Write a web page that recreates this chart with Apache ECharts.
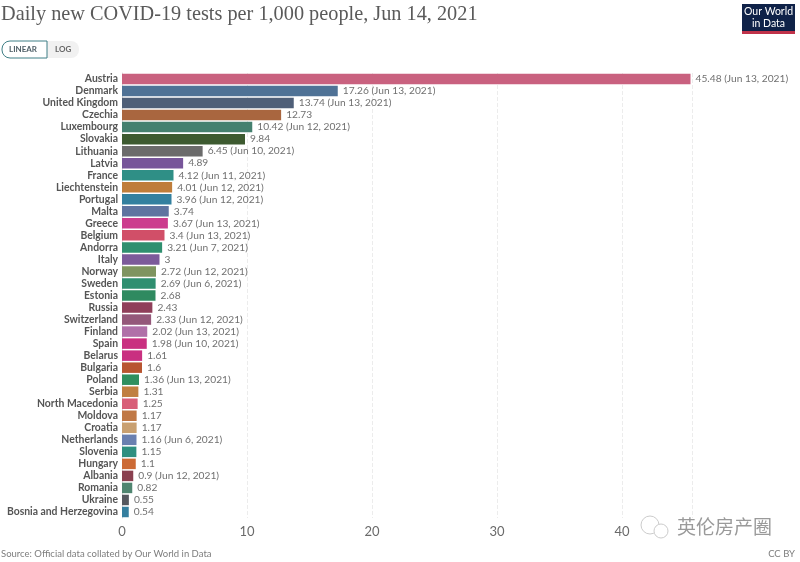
<!DOCTYPE html>
<html><head><meta charset="utf-8">
<style>html,body{margin:0;padding:0;background:#fff}#c{width:800px;height:562px}</style>
<script src="https://cdn.jsdelivr.net/npm/echarts@6/dist/echarts.min.js"></script>
</head><body><div id="c"></div>
<script>
const countries=["Austria","Denmark","United Kingdom","Czechia","Luxembourg","Slovakia","Lithuania","Latvia","France","Liechtenstein","Portugal","Malta","Greece","Belgium","Andorra","Italy","Norway","Sweden","Estonia","Russia","Switzerland","Finland","Spain","Belarus","Bulgaria","Poland","Serbia","North Macedonia","Moldova","Croatia","Netherlands","Slovenia","Hungary","Albania","Romania","Ukraine","Bosnia and Herzegovina"];
const values=[45.48,17.26,13.74,12.73,10.42,9.84,6.45,4.89,4.12,4.01,3.96,3.74,3.67,3.4,3.21,3,2.72,2.69,2.68,2.43,2.33,2.02,1.98,1.61,1.6,1.36,1.31,1.25,1.17,1.17,1.16,1.15,1.1,0.9,0.82,0.55,0.54];
const dates=["Jun 13, 2021","Jun 13, 2021","Jun 13, 2021","","Jun 12, 2021","","Jun 10, 2021","","Jun 11, 2021","Jun 12, 2021","Jun 12, 2021","","Jun 13, 2021","Jun 13, 2021","Jun 7, 2021","","Jun 12, 2021","Jun 6, 2021","","","Jun 12, 2021","Jun 13, 2021","Jun 10, 2021","","","Jun 13, 2021","","","","","Jun 6, 2021","","","Jun 12, 2021","","",""];
const colors=["#c9617f","#4f7296","#4f5f78","#a9663f","#45806f","#3d5a30","#6b6b6b","#77559a","#2f8f86","#bf7d3a","#33809f","#5f74a0","#cc3c8e","#d14f68","#2f8f6f","#7c5a9a","#7f9460","#2f8f70","#2f8a60","#8f3f5a","#94587a","#b070a8","#c93080","#c93080","#b85530","#2f8f5f","#c07f40","#d85f78","#c07845","#c9a070","#6a80b0","#2f8f80","#cc6a35","#8a4050","#4f8570","#55585f","#357f9f"];
const xTicks=[0,10,20,30,40];
const titleText="Daily new COVID-19 tests per 1,000 people, Jun 14, 2021";
const sourceText="Source: Official data collated by Our World in Data";
const sans="Lato, 'Noto Sans', sans-serif";
const chart=echarts.init(document.getElementById('c'),null,{renderer:'canvas'});
chart.setOption({
 animation:false,
 backgroundColor:'#fff',
 grid:{left:122,top:73,width:570,height:445,containLabel:false},
 xAxis:{type:'value',min:0,max:45.6,interval:10,
  axisLine:{show:false},axisTick:{show:false},
  axisLabel:{color:'#6a6a6a',fontSize:13,fontFamily:sans,margin:7,
    formatter:v=>xTicks.includes(v)?String(v):''},
  splitLine:{show:true,lineStyle:{color:'#ececec',type:'dashed',width:1}}},
 yAxis:{type:'category',inverse:true,data:countries,
  axisLine:{show:true,lineStyle:{color:'#dddddd',width:1}},axisTick:{show:false},
  axisLabel:{interval:0,color:'#555',fontSize:10.4,fontWeight:700,fontFamily:sans,margin:4}},
 series:[{type:'bar',barWidth:10.5,
  data:values.map((v,i)=>({value:v,itemStyle:{color:colors[i]}})),
  label:{show:true,position:'right',distance:5,color:'#707070',fontSize:10.2,fontFamily:sans,
   formatter:p=>dates[p.dataIndex]?`${p.value} (${dates[p.dataIndex]})`:String(p.value)}}],
 graphic:[
  {type:'text',left:1,top:5,style:{text:titleText,fill:'#5a5a5a',font:"20.3px 'Liberation Serif','DejaVu Serif',serif"}},
  {type:'rect',shape:{x:2,y:41,width:77,height:17,r:8},style:{fill:'#f1f1f1'}},
  {type:'rect',shape:{x:2,y:41,width:45,height:17,r:[8,0,0,8]},style:{fill:'#fff',stroke:'#3f7f86',lineWidth:1}},
  {type:'text',x:9,y:45,style:{text:'LINEAR',fill:'#4e5e66',font:"700 8px "+sans}},
  {type:'text',x:55,y:45,style:{text:'LOG',fill:'#666',font:"700 8px "+sans}},
  {type:'rect',shape:{x:742,y:4,width:53,height:29},style:{fill:'#0f2248'}},
  {type:'rect',shape:{x:742,y:31,width:53,height:3},style:{fill:'#c0324a'}},
  {type:'text',x:768.5,y:6,style:{text:'Our World\nin Data',fill:'#fff',font:"10.5px "+sans,align:'center',lineHeight:12}},
  {type:'text',left:1,top:549,style:{text:sourceText,fill:'#7d7d7d',font:"9.5px "+sans}},
  {type:'text',right:5,top:549,style:{text:'CC BY',fill:'#7d7d7d',font:"9.5px "+sans}},
  {type:'text',x:677,y:517,style:{text:'英伦房产圈',fill:'#9a9a9a',font:"19px 'Noto Sans CJK SC'"}},
  {type:'circle',shape:{cx:650,cy:525,r:9},style:{fill:'rgba(255,255,255,0)',stroke:'#cccccc',lineWidth:1}},
  {type:'circle',shape:{cx:661,cy:531,r:7},style:{fill:'#fff',stroke:'#cccccc',lineWidth:1}}
 ]
});
</script></body></html>
